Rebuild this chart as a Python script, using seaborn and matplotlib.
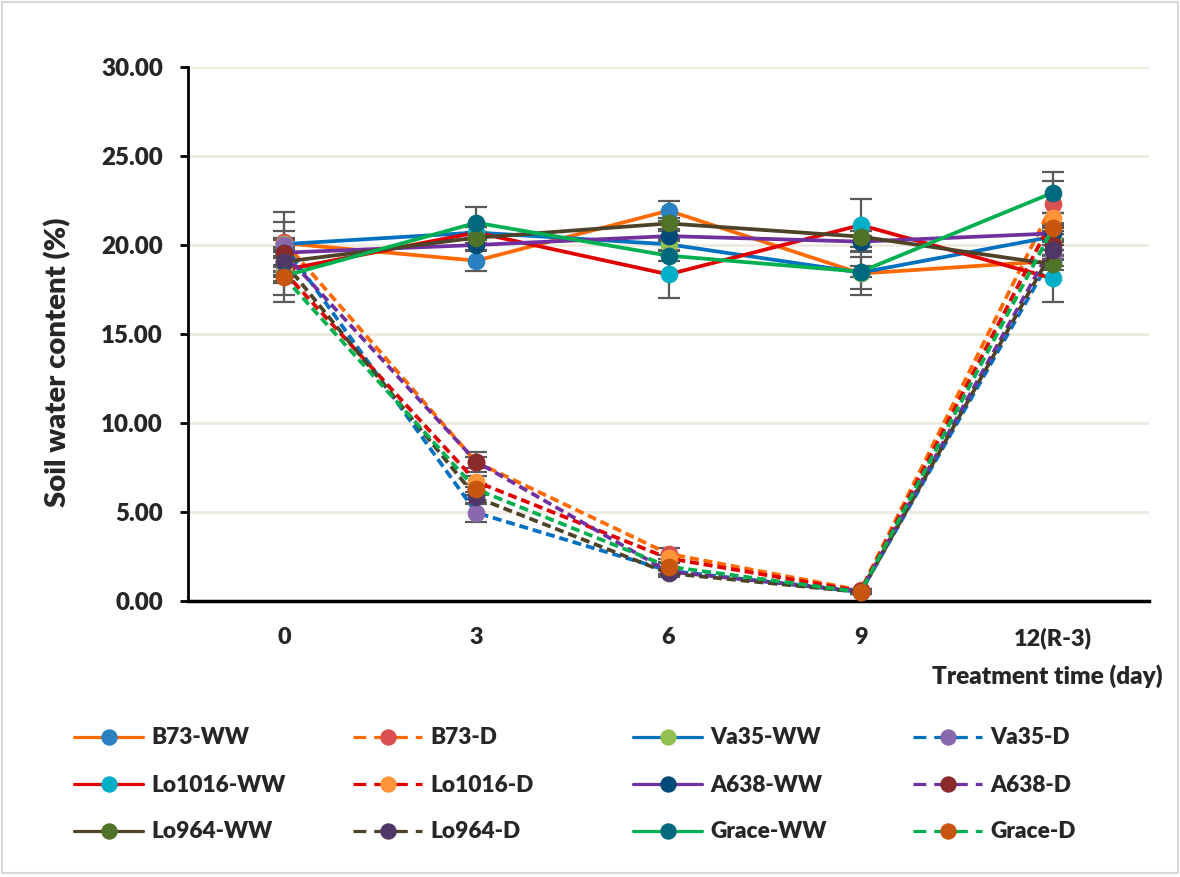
import numpy as np
import pandas as pd
import matplotlib
matplotlib.use("Agg")
import matplotlib.pyplot as plt
import seaborn as sns
from matplotlib.patches import Rectangle

# ---- data ----
days = ["0", "3", "6", "9", "12(R-3)"]
series_names = ["B73-WW", "B73-D", "Va35-WW", "Va35-D",
                "Lo1016-WW", "Lo1016-D", "A638-WW", "A638-D",
                "Lo964-WW", "Lo964-D", "Grace-WW", "Grace-D"]

b73_ww = [20.10, 19.12, 21.93, 18.40, 19.10]
b73_d = [20.19, 7.80, 2.65, 0.60, 22.33]
va35_ww = [20.05, 20.70, 20.04, 18.45, 20.47]
va35_d = [20.00, 4.96, 1.70, 0.50, 19.44]
lo1016_ww = [18.60, 20.70, 18.35, 21.12, 18.12]
lo1016_d = [18.50, 6.70, 2.40, 0.55, 21.50]
a638_ww = [19.57, 20.00, 20.50, 20.19, 20.65]
a638_d = [19.53, 7.83, 1.65, 0.55, 20.00]
lo964_ww = [19.06, 20.41, 21.21, 20.47, 18.91]
lo964_d = [19.03, 5.82, 1.56, 0.50, 19.72]
grace_ww = [18.26, 21.25, 19.40, 18.50, 22.94]
grace_d = [18.19, 6.27, 1.93, 0.50, 20.94]

b73_ww_err = [0.30, 0.56, 0.56, 1.20, 0.30]
b73_d_err = [0.60, 0.30, 0.30, 0.10, 1.27]
va35_ww_err = [0.30, 0.30, 0.30, 0.90, 0.30]
va35_d_err = [0.30, 0.50, 0.20, 0.10, 0.30]
lo1016_ww_err = [0.30, 0.30, 1.30, 1.44, 1.30]
lo1016_d_err = [0.30, 0.30, 0.20, 0.10, 0.30]
a638_ww_err = [0.30, 0.30, 0.30, 0.30, 0.30]
a638_d_err = [2.35, 0.56, 0.20, 0.10, 0.30]
lo964_ww_err = [0.30, 0.30, 0.30, 0.30, 0.30]
lo964_d_err = [2.25, 0.30, 0.20, 0.10, 0.30]
grace_ww_err = [0.30, 0.90, 0.30, 0.30, 1.15]
grace_d_err = [0.30, 0.30, 0.20, 0.10, 0.30]

values = [b73_ww, b73_d, va35_ww, va35_d, lo1016_ww, lo1016_d,
          a638_ww, a638_d, lo964_ww, lo964_d, grace_ww, grace_d]
errors = [b73_ww_err, b73_d_err, va35_ww_err, va35_d_err, lo1016_ww_err, lo1016_d_err,
          a638_ww_err, a638_d_err, lo964_ww_err, lo964_d_err, grace_ww_err, grace_d_err]

line_colors = ["#FF6A00", "#FF6A00", "#0070C0", "#0070C0", "#E00000", "#E00000",
               "#7030A0", "#7030A0", "#4E4228", "#4E4228", "#00B050", "#00B050"]
marker_colors = ["#2A80C0", "#DA5050", "#92C050", "#8A68AE", "#00AEC8", "#FF9538",
                 "#004A78", "#8A2A2A", "#4F7428", "#4F3868", "#00697E", "#C85510"]

# ---- style ----
sns.set_style("white")
plt.rcParams["font.family"] = ["Lato", "DejaVu Sans"]
W = "heavy"
plt.rcParams["font.weight"] = W

FW, FH = 1180, 877
fig = plt.figure(figsize=(FW / 100, FH / 100), dpi=100)
fig.canvas.draw()
R = fig.canvas.get_renderer()


def width_px(txt, size):
    t = fig.text(0, 0, txt, fontsize=size, fontweight=W)
    w = t.get_window_extent(R).width
    t.remove()
    return w


def fit(txt, target_px):
    return 20 * target_px / width_px(txt, 20)


ytick_size = fit("30.00", 61.5)
xtick_size = fit("12(R-3)", 78)
xlabel_size = fit("Treatment time (day)", 231)
ylabel_size = fit("Soil water content (%)", 290)
legend_size = fit("Lo1016-WW", 134)

ax = fig.add_axes([188 / FW, 1 - 601 / FH, (1149 - 188) / FW, (601 - 67) / FH])

xpos = np.arange(len(days))
handles = []
for i, name in enumerate(series_names):
    dashed = name.endswith("-D")
    df = pd.DataFrame({"x": xpos, "y": values[i]})
    ax.errorbar(xpos, values[i], yerr=errors[i], fmt="none", ecolor="#5A5A5A",
                elinewidth=1.6, capsize=8, capthick=1.6, zorder=2 + i * 0.01)
    sns.lineplot(data=df, x="x", y="y", ax=ax, color=line_colors[i],
                 linewidth=2.7, linestyle=(0, (2.4, 1.3)) if dashed else "-",
                 marker="o", markersize=12, markerfacecolor=marker_colors[i],
                 markeredgecolor=marker_colors[i], zorder=3 + i * 0.01,
                 label=name, legend=False)
    h, = ax.plot([], [], color=line_colors[i], linewidth=2.3,
                 linestyle=(0, (4.0, 2.5)) if dashed else "-",
                 marker="o", markersize=10.8, markerfacecolor=marker_colors[i],
                 markeredgecolor=marker_colors[i], label=name)
    handles.append(h)

ax.set_xlim(-0.5, 4.5)
ax.set_ylim(0, 30)
ax.set_yticks(np.arange(0, 30.01, 5))
ax.set_yticklabels([f"{v:.2f}" for v in np.arange(0, 30.01, 5)])
ax.set_xticks(xpos)
ax.set_xticklabels(days)
ax.set_xlabel("")
ax.set_ylabel("")

ax.grid(axis="y", color="#EEEAE0", linewidth=2)
ax.grid(axis="x", visible=False)
for s in ["top", "right"]:
    ax.spines[s].set_visible(False)
ax.spines["left"].set_color("black")
ax.spines["left"].set_linewidth(2)
ax.spines["bottom"].set_color("black")
ax.spines["bottom"].set_linewidth(2.5)
ax.tick_params(axis="y", which="major", direction="out", length=6, width=2,
               color="black", labelsize=ytick_size, pad=12, left=True)
ax.tick_params(axis="x", which="major", length=0, labelsize=xtick_size, pad=19)
for lab in ax.get_xticklabels() + ax.get_yticklabels():
    lab.set_fontweight(W)

fig.text(57.5 / FW, 1 - 362 / FH, "Soil water content (%)", rotation=90,
         ha="center", va="center", fontsize=ylabel_size, fontweight=W)
fig.text(1163 / FW, 1 - 676 / FH, "Treatment time (day)", ha="right", va="center",
         fontsize=xlabel_size, fontweight=W)

# ---- legend: 4 columns, 3 rows, row-wise order ----
fs_px = legend_size * 100 / 72
col_x = [74, 353, 633, 913]          # handle start (px)
row_y = [738, 785, 832]              # row centres (px from top)
pitch = row_y[1] - row_y[0]


def make_col(c, labelspacing, top_px):
    idx = [r * 4 + c for r in range(3)]
    return fig.legend([handles[k] for k in idx], [series_names[k] for k in idx],
                      loc="upper left", bbox_to_anchor=(col_x[c] / FW, 1 - top_px / FH),
                      frameon=False, borderpad=0, borderaxespad=0,
                      handlelength=69 / fs_px, handletextpad=8 / fs_px,
                      labelspacing=labelspacing,
                      prop={"weight": W, "size": legend_size})


# calibrate spacing and vertical offset with a trial legend
trial = make_col(0, 1.0, 720)
fig.canvas.draw()
tb = [t.get_window_extent(R) for t in trial.get_texts()]
cur_pitch = (tb[0].y0 + tb[0].y1) / 2 - (tb[1].y0 + tb[1].y1) / 2
ls = 1.0 + (pitch - cur_pitch) / fs_px
trial.remove()
trial = make_col(0, ls, 720)
fig.canvas.draw()
tb0 = trial.get_texts()[0].get_window_extent(R)
cur_center = FH - (tb0.y0 + tb0.y1) / 2
top = 720 + (row_y[0] - cur_center)
trial.remove()

for c in range(4):
    make_col(c, ls, top)

fig.patches.append(Rectangle((0.002, 0.004), 0.996, 0.994, transform=fig.transFigure,
                             fill=False, edgecolor="#D9D9D9", linewidth=1.5))

fig.savefig("out.png", dpi=100, facecolor="white")
